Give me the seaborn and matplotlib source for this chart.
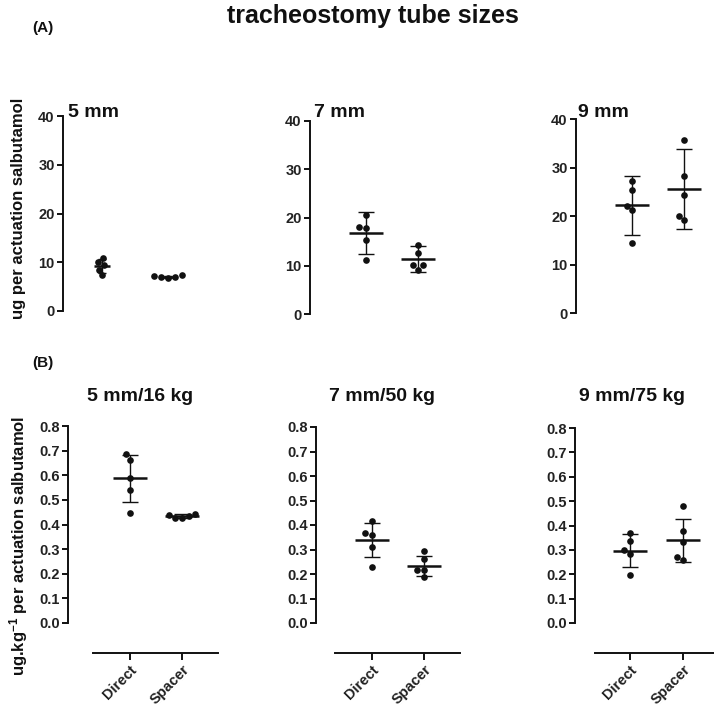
import matplotlib
matplotlib.use("Agg")
import matplotlib.pyplot as plt
import pandas as pd
import seaborn as sns

# ---- data -------------------------------------------------------------
groups = ["Direct", "Spacer"]

# (A) salbutamol delivered per actuation, ug
a_titles = ["5 mm", "7 mm", "9 mm"]
a5_direct = [10.9, 10.0, 9.4, 8.5, 7.3]
a5_spacer = [7.4, 7.2, 7.0, 6.9, 6.7]
a7_direct = [20.5, 18.1, 17.8, 15.4, 11.2]
a7_spacer = [14.3, 12.6, 10.2, 10.2, 9.2]
a9_direct = [27.3, 25.3, 22.1, 21.2, 14.4]
a9_spacer = [35.6, 28.2, 24.3, 20.1, 19.2]
a_means = [[9.2, 7.0], [16.8, 11.4], [22.2, 25.6]]
a_sds = [[1.4, 0.25], [4.35, 2.65], [6.05, 8.3]]
a_ticks = [0, 10, 20, 30, 40]

# (B) salbutamol per kg body weight per actuation, ug/kg
b_titles = ["5 mm/16 kg", "7 mm/50 kg", "9 mm/75 kg"]
b5_direct = [0.685, 0.662, 0.587, 0.540, 0.447]
b5_spacer = [0.442, 0.440, 0.433, 0.428, 0.427]
b7_direct = [0.416, 0.369, 0.359, 0.311, 0.229]
b7_spacer = [0.294, 0.261, 0.216, 0.216, 0.188]
b9_direct = [0.368, 0.338, 0.299, 0.285, 0.195]
b9_spacer = [0.480, 0.379, 0.333, 0.269, 0.258]
b_means = [[0.587, 0.434], [0.339, 0.233], [0.296, 0.340]]
b_sds = [[0.097, 0.007], [0.071, 0.040], [0.068, 0.088]]
b_ticks = [0.0, 0.1, 0.2, 0.3, 0.4, 0.5, 0.6, 0.7, 0.8]

a_series = [(a5_direct, a5_spacer), (a7_direct, a7_spacer), (a9_direct, a9_spacer)]
b_series = [(b5_direct, b5_spacer), (b7_direct, b7_spacer), (b9_direct, b9_spacer)]

# ---- style ------------------------------------------------------------
sns.set_style("ticks")
plt.rcParams["font.family"] = ["Liberation Sans", "DejaVu Sans"]
plt.rcParams["font.weight"] = "bold"
plt.rcParams["mathtext.fontset"] = "custom"
plt.rcParams["mathtext.rm"] = "Liberation Sans:bold"
plt.rcParams["mathtext.bf"] = "Liberation Sans:bold"
plt.rcParams["mathtext.default"] = "regular"

W, H = 714, 707
fig = plt.figure(figsize=(W / 100, H / 100), dpi=100)
fig.patch.set_facecolor("white")

INK = "#111111"


def make_axes(spine_px, top_px, zero_px, first_px, step_px, right_px):
    ax = fig.add_axes([spine_px / W, 1 - zero_px / H,
                       (right_px - spine_px) / W, (zero_px - top_px) / H])
    ax.set_xlim((spine_px - first_px) / step_px, (right_px - first_px) / step_px)
    return ax


def draw_panel(ax, direct, spacer, means, sds, ticks, fmt, bar_ms=25, cap=6):
    df = pd.DataFrame({
        "group": ["Direct"] * len(direct) + ["Spacer"] * len(spacer),
        "value": list(direct) + list(spacer),
    })
    xl = ax.get_xlim()
    sns.swarmplot(data=df, x="group", y="value", order=groups, color=INK,
                  size=4.8, linewidth=0, ax=ax, zorder=3)
    ax.errorbar([0, 1], means, yerr=sds, fmt="none", ecolor=INK,
                elinewidth=1.0, capsize=cap, capthick=1.0, zorder=2)
    ax.plot([0, 1], means, ls="none", marker="_", ms=bar_ms, mew=1.8,
            color=INK, zorder=4)
    ax.set_xlim(xl)
    ax.set_ylim(ticks[0], ticks[-1])
    ax.set_yticks(ticks)
    ax.set_yticklabels([fmt.format(t) for t in ticks])
    ax.set_xlabel("")
    ax.set_ylabel("")
    for side in ("top", "right"):
        ax.spines[side].set_visible(False)
    ax.spines["left"].set_linewidth(1.4)
    ax.spines["left"].set_color(INK)
    ax.spines["left"].set_bounds(ticks[0], ticks[-1])
    ax.tick_params(axis="y", length=4.5, width=1.4, color=INK, pad=1.5,
                   labelsize=10.5, labelcolor="#222222")
    ax.patch.set_alpha(0)


# ---- row A ------------------------------------------------------------
a_layout = [(63, 116, 311, 102, 66, 200),
            (310, 121, 314, 366, 52, 460),
            (576, 119, 313, 632, 52, 710)]
a_bar_ms = [11, 25, 25]
a_caps = [3, 6, 6]
for (d, s), m, sd, lay, bms, cp in zip(a_series, a_means, a_sds, a_layout, a_bar_ms, a_caps):
    ax = make_axes(*lay)
    draw_panel(ax, d, s, m, sd, a_ticks, "{:.0f}", bar_ms=bms, cap=cp)
    ax.spines["bottom"].set_visible(False)
    ax.set_xticks([])

# ---- row B ------------------------------------------------------------
b_layout = [(68, 426, 623, 130, 52, 225),
            (316, 427, 623, 372, 52, 470),
            (575, 428, 623, 630, 53, 714)]
b_axis_px = [(93, 218), (335, 460), (595, 720)]
for (d, s), m, sd, lay, (x0, x1) in zip(b_series, b_means, b_sds, b_layout, b_axis_px):
    ax = make_axes(*lay)
    draw_panel(ax, d, s, m, sd, b_ticks, "{:.1f}")
    first, step = lay[3], lay[4]
    ax.spines["bottom"].set_position(("outward", 21.6))
    ax.spines["bottom"].set_bounds((x0 - first) / step, (x1 - first) / step)
    ax.spines["bottom"].set_linewidth(1.4)
    ax.spines["bottom"].set_color(INK)
    ax.set_xticks([0, 1])
    ax.set_xticklabels(groups, rotation=45, ha="right", va="top",
                       rotation_mode="anchor")
    ax.tick_params(axis="x", length=5, width=1.4, color=INK, pad=2,
                   labelsize=10.5, labelcolor="#222222")

# ---- text -------------------------------------------------------------
def ftext(x, y, s, **kw):
    fig.text(x / W, 1 - y / H, s, **kw)


ftext(373, 23, "tracheostomy tube sizes", ha="center", va="baseline",
      fontsize=18, fontweight="bold", color=INK)
ftext(32, 32, "(A)", ha="left", va="baseline", fontsize=11, fontweight="bold", color=INK)
ftext(32, 367, "(B)", ha="left", va="baseline", fontsize=11, fontweight="bold", color=INK)

for t, x in zip(a_titles, [68, 314, 578]):
    ftext(x, 117, t, ha="left", va="baseline", fontsize=14, fontweight="bold", color=INK)
for t, x in zip(b_titles, [87, 329, 579]):
    ftext(x, 401, t, ha="left", va="baseline", fontsize=14, fontweight="bold", color=INK)

ftext(19, 208, "ug per actuation salbutamol", ha="center", va="center",
      rotation=90, fontsize=12, fontweight="bold", color=INK)
ftext(19, 546, "ug.kg$^{-1}$ per actuation salbutamol", ha="center", va="center",
      rotation=90, fontsize=12, fontweight="bold", color=INK)

fig.savefig("out.png", dpi=100, facecolor="white")
